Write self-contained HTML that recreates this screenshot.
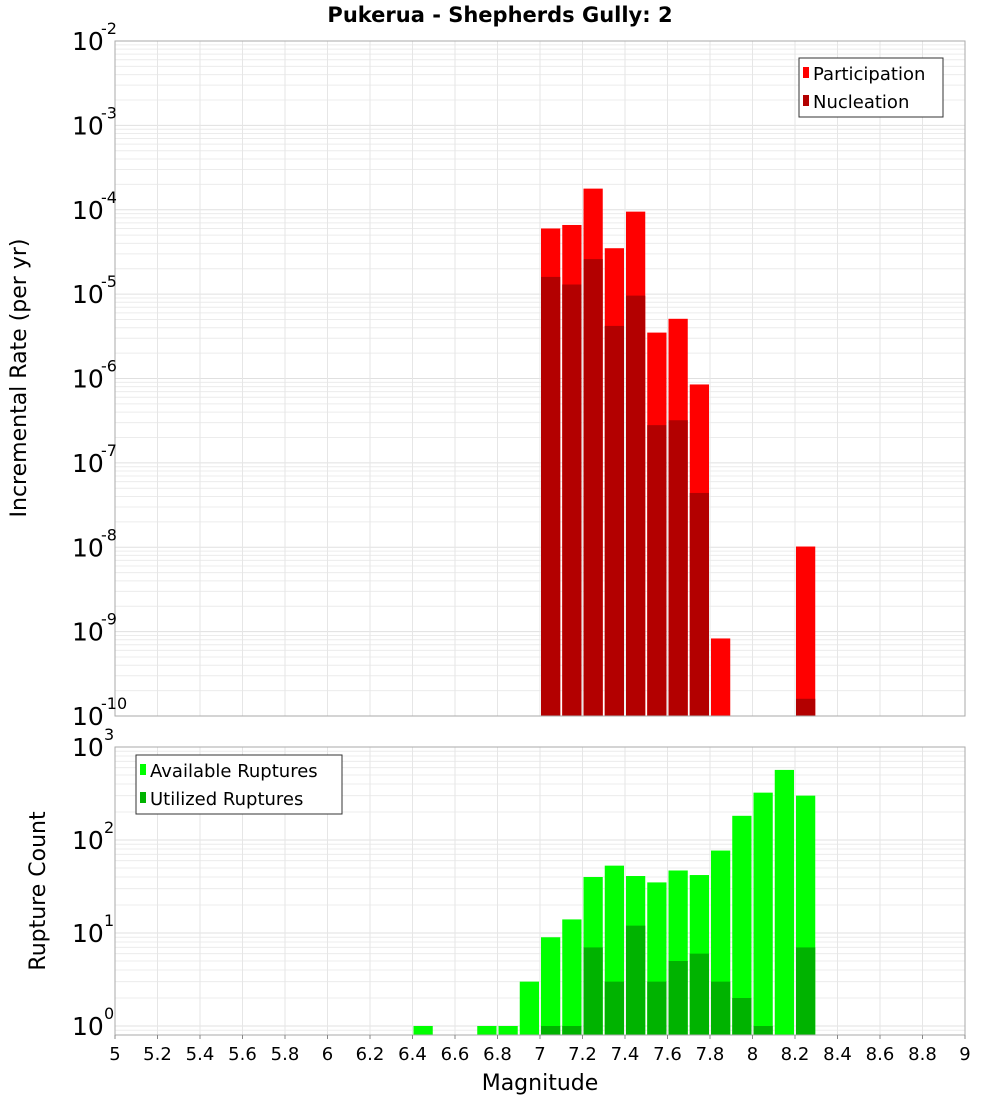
<!DOCTYPE html>
<html><head><meta charset="utf-8"><style>
body{margin:0;background:#fff;}
svg{display:block;font-family:"DejaVu Sans","Liberation Sans",sans-serif;}
</style></head><body>
<svg id="c" width="1000" height="1100" xmlns="http://www.w3.org/2000/svg"></svg>
<script>
const xTicks=[5,5.2,5.4,5.6,5.8,6,6.2,6.4,6.6,6.8,7,7.2,7.4,7.6,7.8,8,8.2,8.4,8.6,8.8,9];
const xTickLabels=["5","5.2","5.4","5.6","5.8","6","6.2","6.4","6.6","6.8","7","7.2","7.4","7.6","7.8","8","8.2","8.4","8.6","8.8","9"];
const rateMags=[7.05,7.15,7.25,7.35,7.45,7.55,7.65,7.75,7.85,8.25];
const participation=[6e-5,6.6e-5,1.78e-4,3.5e-5,9.5e-5,3.5e-6,5.1e-6,8.5e-7,8.3e-10,1.02e-8];
const nucleation=[1.6e-5,1.3e-5,2.6e-5,4.2e-6,9.6e-6,2.8e-7,3.2e-7,4.4e-8,0,1.6e-10];
const countMags=[6.45,6.75,6.85,6.95,7.05,7.15,7.25,7.35,7.45,7.55,7.65,7.75,7.85,7.95,8.05,8.15,8.25];
const available=[1,1,1,3,9,14,40,53,41,35,47,42,77,182,323,567,300];
const utilized=[0,0,0,0,1,1,7,3,12,3,5,6,3,2,1,0,7];
const topExps=[-2,-3,-4,-5,-6,-7,-8,-9,-10];
const botExps=[3,2,1,0];

const NS="http://www.w3.org/2000/svg";
const svg=document.getElementById('c');
function mk(t,a,p){const e=document.createElementNS(NS,t);for(const k in a)e.setAttribute(k,a[k]);(p||svg).appendChild(e);return e;}
const L=115,R=965;
const xs=v=>L+(v-5)/4*(R-L);
const T1=41,B1=716; const yTop=v=>T1+(-2-Math.log10(v))/8*(B1-T1);
const T2=747,B2=1035; const y0=1026; const yBot=v=>y0-Math.log10(v)*(y0-T2)/3;

function grid(g,top,bot,ysc,eMin,eMax){
  for(let e=eMin;e<=eMax;e++)for(let m=1;m<10;m++){const v=m*Math.pow(10,e);const y=ysc(v);if(y<top||y>bot)continue;
    const l=mk('line',{x1:L,x2:R,y1:y,y2:y,stroke:m==1?'#e0e0e0':'#ececec','stroke-width':1},g);
    }
  xTicks.forEach(t=>{const x=xs(t);const l=mk('line',{x1:x,x2:x,y1:top,y2:bot,stroke:'#e6e6e6','stroke-width':1},g);
    });
}
// title
const title=mk('text',{x:500,y:22,'text-anchor':'middle','font-size':21,'font-weight':'bold'});title.textContent='Pukerua - Shepherds Gully: 2';


// top plot
const g1=mk('g',{});
grid(g1,T1,B1,yTop,-10,-3);
const w=xs(5.1)-xs(5);
rateMags.forEach((m,i)=>{
  const x=xs(m-0.05);
  const y=yTop(participation[i]);
  const r=mk('rect',{x:x+1,y:y,width:w-2,height:B1-y,fill:'#ff0000'},g1);
  
  if(nucleation[i]>0){const yn=yTop(nucleation[i]);
    const r2=mk('rect',{x:x+1,y:yn,width:w-2,height:B1-yn,fill:'#b30000'},g1);
    }
});
mk('rect',{x:L,y:T1,width:R-L,height:B1-T1,fill:'none',stroke:'#aaa'},g1);
topExps.forEach(e=>{const y=yTop(Math.pow(10,e));
  const t=mk('text',{x:72,y:y+9,'font-size':25},g1);t.textContent='10';
  
  const s=mk('text',{x:101,y:y-7,'font-size':16},g1);s.textContent=String(e);
  });
const yl1=mk('text',{x:0,y:0,'font-size':22,'text-anchor':'middle',transform:'translate(26,378) rotate(-90)'});yl1.textContent='Incremental Rate (per yr)';

// legend top
const lg1=mk('g',{});
mk('rect',{x:799,y:58,width:144,height:59,fill:'#fff',stroke:'#333'},lg1);
mk('rect',{x:803,y:67,width:6,height:11,fill:'#ff0000'},lg1);
let t=mk('text',{x:813,y:80,'font-size':18},lg1);t.textContent='Participation';
mk('rect',{x:803,y:95,width:6,height:11,fill:'#b30000'},lg1);
t=mk('text',{x:813,y:108,'font-size':18},lg1);t.textContent='Nucleation';

// bottom plot
const g2=mk('g',{});
grid(g2,T2,B2,yBot,-1,2);
countMags.forEach((m,i)=>{
  const x=xs(m-0.05);
  const y=yBot(available[i]);
  const r=mk('rect',{x:x+1,y:y,width:w-2,height:B2-y,fill:'#00ff00'},g2);
  
  if(utilized[i]>0){const yu=yBot(utilized[i]);
    const r2=mk('rect',{x:x+1,y:yu,width:w-2,height:B2-yu,fill:'#00b300'},g2);
    }
});
mk('rect',{x:L,y:T2,width:R-L,height:B2-T2,fill:'none',stroke:'#aaa'},g2);
botExps.forEach(e=>{const y=yBot(Math.pow(10,e));
  const t=mk('text',{x:72,y:y+9,'font-size':25},g2);t.textContent='10';
  
  const s=mk('text',{x:104,y:y-7,'font-size':16},g2);s.textContent=String(e);
  });
const yl2=mk('text',{x:0,y:0,'font-size':22,'text-anchor':'middle',transform:'translate(45,891) rotate(-90)'});yl2.textContent='Rupture Count';

const lg2=mk('g',{});
mk('rect',{x:136,y:755,width:206,height:59,fill:'#fff',stroke:'#333'},lg2);
mk('rect',{x:140,y:764,width:6,height:11,fill:'#00ff00'},lg2);
t=mk('text',{x:150,y:777,'font-size':18},lg2);t.textContent='Available Ruptures';
mk('rect',{x:140,y:792,width:6,height:11,fill:'#00b300'},lg2);
t=mk('text',{x:150,y:805,'font-size':18},lg2);t.textContent='Utilized Ruptures';

// x axis
xTicks.forEach((v,i)=>{const x=xs(v);
  mk('line',{x1:x,x2:x,y1:B2,y2:B2+4,stroke:'#888'});
  const tl=mk('text',{x:x,y:1060,'font-size':18,'text-anchor':'middle'});tl.textContent=xTickLabels[i];
  });
const xl=mk('text',{x:540,y:1090,'font-size':22,'text-anchor':'middle'});xl.textContent='Magnitude';

</script>
</body></html>
